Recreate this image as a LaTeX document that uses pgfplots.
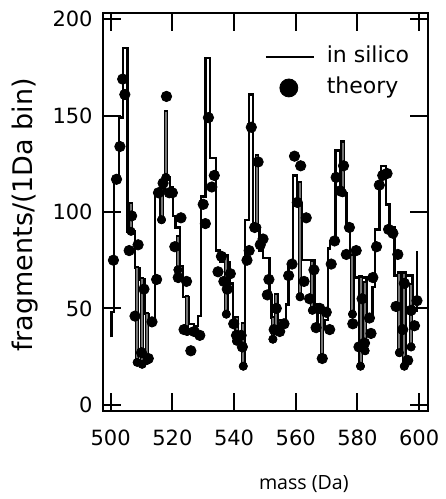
\documentclass[border=0pt]{standalone}
\usepackage{fontspec}
\setmainfont{DejaVu Sans}
\newfontfamily\labelfont{Open Sans}
\usepackage{pgfplots}
\usepackage{pgfplotstable}
\pgfplotsset{compat=1.18}

% in silico histogram (step edges, left-marked)
\pgfplotstableread{
x y
500.3 35
500.3 48
501.1 116
502.7 149
504.1 185
505.4 90
507.9 71
509.4 65
511.0 47
512.4 44
514.3 111
517.4 118
519.2 113
520.3 98
521.0 92
522.4 72
523.5 56
525.3 42
527.1 41
528.4 46
529.2 108
530.8 180
532.3 128
534.1 80
535.4 74
538.6 63
539.7 45
541.3 37
543.5 96
544.9 161
546.2 92
548.3 80
549.4 76
551.5 57
552.1 45
554.2 44
556.9 52
557.7 73
559.1 119
560.5 104
562.0 75
566.1 52
567.0 40
569.3 44
570.4 81
571.2 85
572.9 132
574.3 110
576.4 93
577.6 77
579.0 66
582.9 46
584.9 61
585.6 91
587.1 114
587.7 124
589.3 104
590.4 92
592.0 67
597.9 49
599.3 49
599.3 80
}\histo

% narrow sub-bin spikes: centre, bottom, height
\pgfplotstableread{
x lo d
506.6 90 14
508.6 22 49
510.2 21 44
511.8 23 24
516.5 96 16
517.9 118 34
521.8 70 17
524.8 38 18
537.5 47 30
540.8 33 12
543.0 20 22
547.4 92 37
552.6 34 11
553.7 39 18
561.4 56 59
565.4 49 25
568.5 24 23
575.2 110 26
578.4 47 30
581.0 20 46
582.5 28 35
593.6 27 41
595.2 20 48
597.4 30 32
}\spikes

\pgfplotstableread{
x y
500.9 75
501.9 117
503.0 134
503.9 169
504.6 161
506.0 80
506.8 98
507.9 46
508.9 83
510.0 27
510.8 60
512.2 24
513.4 43
514.9 65
515.5 110
517.0 115
518.1 160
519.0 110
520.0 110
520.8 82
521.9 66
522.8 97
523.8 39
524.6 64
526.0 28
527.1 38
528.9 36
530.0 104
530.7 94
531.7 149
532.8 113
533.6 119
534.8 69
535.9 77
536.7 64
537.8 60
538.8 68
539.9 42
540.8 36
542.3 36
542.7 30
544.2 75
544.9 80
545.6 144
546.7 92
547.8 126
548.5 83
549.4 86
550.8 57
551.3 65
553.0 39
553.7 50
554.8 38
556.2 42
557.7 67
558.8 73
559.6 129
560.5 105
561.6 124
562.7 64
563.4 97
564.5 55
565.9 70
566.6 40
567.8 50
568.6 24
569.9 48
571.0 39
571.5 73
572.6 85
573.1 118
574.4 111
575.5 124
576.4 78
577.4 92
578.5 42
579.6 80
580.5 30
581.5 55
582.3 32
583.9 45
584.4 37
585.0 66
586.2 82
587.1 114
588.2 119
589.6 120
590.1 91
591.5 89
592.5 51
593.1 78
594.7 39
595.2 63
596.3 23
597.4 49
598.5 41
599.3 54
}\theory

\begin{document}
\begin{tikzpicture}
\begin{axis}[
  scale only axis,
  width=162.5pt, height=199.35pt,
  xmin=497.5, xmax=602.8,
  ymin=-3.5, ymax=203.3,
  xtick={500,520,...,600},
  ytick={0,50,...,200},
  minor tick num=0,
  tick align=inside,
  major tick length=9pt,
  axis line style={line width=1pt},
  every tick/.style={black, line width=1pt},
  /pgf/number format/assume math mode=true,
  tick label style={font=\fontsize{10.5}{12}\selectfont},
  xticklabel style={yshift=-5.7pt},
  yticklabel style={xshift=-1.65pt},
  xlabel={mass (Da)},
  xlabel style={at={(axis description cs:0.6185,-0.1815)}, anchor=center,
    font=\labelfont\fontsize{9.8}{11}\selectfont},
  ylabel={fragments/(1Da bin)},
  ylabel style={at={(axis description cs:-0.24,0.4934)}, anchor=center,
    font=\fontsize{13.5}{15}\selectfont},
  legend style={at={(axis description cs:0.4985,0.8508)}, anchor=west,
    draw=none, fill=none, inner sep=0pt, outer sep=0pt,
    row sep=5pt, column sep=6pt,
    font=\fontsize{11}{13}\selectfont,
    nodes={inner sep=0pt, text height=8pt, text depth=2.5pt}},
  legend cell align=left,
]
\addplot[const plot mark left, black, line width=1.2pt, mark=none,
  legend image code/.code={\draw[line width=1pt] (0pt,0pt) -- (24pt,0pt);}]
  table[x=x, y=y] {\histo};
\addlegendentry{in silico}

\addplot[only marks, mark=none, forget plot,
  error bars/.cd, y dir=plus, y explicit, error mark=none,
  error bar style={draw=black, line width=2.3pt, line cap=rect}]
  table[x=x, y=lo, y error plus=d] {\spikes};
\addplot[only marks, mark=none, forget plot,
  error bars/.cd, y dir=plus, y explicit, error mark=none,
  error bar style={draw=black!55, line width=1pt, line cap=butt}]
  table[x=x, y=lo, y error plus=d] {\spikes};

\addplot[only marks, mark=*, mark size=2.6pt, black,
  legend image code/.code={\path[draw=none] (0pt,0pt) -- (24pt,0pt);
    \fill[black] (11.5pt,0pt) circle (4.5pt);}]
  table[x=x, y=y] {\theory};
\addlegendentry{theory}
\end{axis}
\path ([shift={(-51.5pt,-43.65pt)}]current axis.south west)
  rectangle ([shift={(8.5pt,6.5pt)}]current axis.north east);
\end{tikzpicture}
\end{document}
